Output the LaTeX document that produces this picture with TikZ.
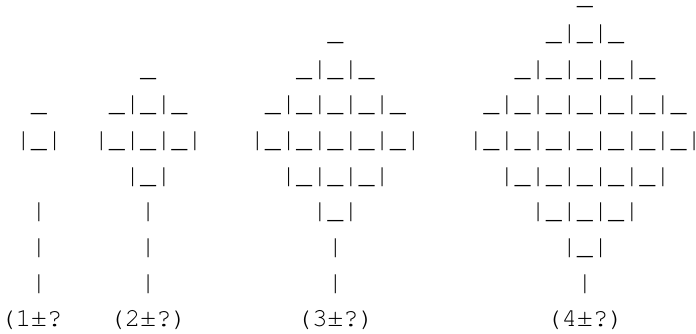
\documentclass[tikz,border=0pt]{standalone}
\usepackage{fontspec}
\setmonofont{texgyrecursor-regular.otf}
\begin{document}
\begin{tikzpicture}[x=15.6pt,y=-35.7pt,
  txt/.style={font=\ttfamily\fontsize{26}{26}\selectfont,inner sep=0pt,outer sep=0pt,anchor=base west,text=black}]
\useasboundingbox (0pt,-31pt) rectangle (696pt,-365pt);
% row 1
\node[txt] (d4r1) at (37,1) {\_};
% row 2
\node[txt] (d3r2) at (21,2) {\_};
\node[txt] (d4r2) at (35,2) {\_|\_|\_};
% row 3
\node[txt] (d2r3) at (9,3) {\_};
\node[txt] (d3r3) at (19,3) {\_|\_|\_};
\node[txt] (d4r3) at (33,3) {\_|\_|\_|\_|\_};
% row 4
\node[txt] (d1r4) at (2,4) {\_};
\node[txt] (d2r4) at (7,4) {\_|\_|\_};
\node[txt] (d3r4) at (17,4) {\_|\_|\_|\_|\_};
\node[txt] (d4r4) at (31,4) {\_|\_|\_|\_|\_|\_|\_};
% row 5
\node[txt] (d1r5) at (1,5) {|\_|};
\node[txt] (d2r5) at (6,5) {|\_|\_|\_|};
\node[txt] (d3r5) at (16,5) {|\_|\_|\_|\_|\_|};
\node[txt] (d4r5) at (30,5) {|\_|\_|\_|\_|\_|\_|\_|};
% row 6
\node[txt] (d2r6) at (8,6) {|\_|};
\node[txt] (d3r6) at (18,6) {|\_|\_|\_|};
\node[txt] (d4r6) at (32,6) {|\_|\_|\_|\_|\_|};
% row 7
\node[txt] (d1r7) at (2,7) {|};
\node[txt] (d2r7) at (9,7) {|};
\node[txt] (d3r7) at (20,7) {|\_|};
\node[txt] (d4r7) at (34,7) {|\_|\_|\_|};
% row 8
\node[txt] (d1r8) at (2,8) {|};
\node[txt] (d2r8) at (9,8) {|};
\node[txt] (d3r8) at (21,8) {|};
\node[txt] (d4r8) at (36,8) {|\_|};
% row 9
\node[txt] (d1r9) at (2,9) {|};
\node[txt] (d2r9) at (9,9) {|};
\node[txt] (d3r9) at (21,9) {|};
\node[txt] (d4r9) at (37,9) {|};
% row 10
\node[txt] (l1) at (0,10) {(1±?};
\node[txt] (l2) at (7,10) {(2±?)};
\node[txt] (l3) at (19,10) {(3±?)};
\node[txt] (l4) at (35,10) {(4±?)};
\end{tikzpicture}
\end{document}
